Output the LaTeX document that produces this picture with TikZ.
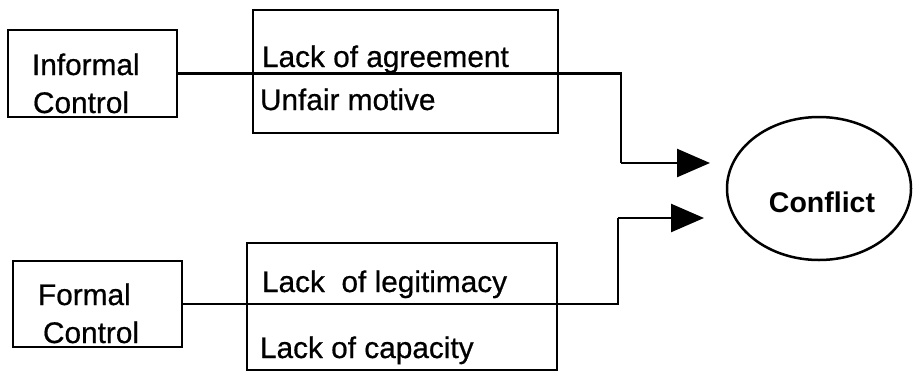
\documentclass[tikz,border=0pt]{standalone}
\usepackage{fontspec}
\setmainfont{Liberation Sans}
% slightly heavier strokes for the body labels
\newfontfamily\labelfont{Liberation Sans}[FakeBold=0.6, BoldFont={Liberation Sans}, BoldFeatures={FakeBold=0.6}]
\newfontfamily\titlefont{Liberation Sans Bold}
\usetikzlibrary{shapes.geometric,arrows.meta}
\begin{document}
\begin{tikzpicture}[x=1pt,y=-1pt,
  every node/.style={inner sep=0pt, outer sep=0pt},
  box/.style={draw, line width=2.5pt, rectangle},
  label/.style={anchor=base west, font=\labelfont\bfseries\fontsize{29.8}{34}\selectfont},
  link/.style={line width=2.5pt},
  flow/.style={line width=2.5pt, -{Triangle[length=33pt,width=28pt]}}]
  \useasboundingbox (0,0) rectangle (913,373);

  % control boxes on the left
  \node[box, minimum width=169pt, minimum height=87pt] (inf) at (92.5,73.5) {};
  \node[box, minimum width=169pt, minimum height=86pt] (frm) at (97.5,304) {};
  \node[label] (infA) at (32,75) {Informal};
  \node[label] (infB) at (33,113) {Control};
  \node[label] (frmA) at (38,305) {Formal};
  \node[label] (frmB) at (43,343) {Control};

  % boxes listing the shortcomings
  \node[box, minimum width=305pt, minimum height=123pt] (top) at (405.5,71.5) {};
  \node[box, minimum width=310pt, minimum height=127pt] (bot) at (402,306.5) {};
  \node[label] (agr) at (262,67) {Lack of agreement};
  \node[label] (mot) at (260,110) {Unfair motive};
  \node[label] (leg) at (262,292) {Lack~~of legitimacy};
  \node[label] (cap) at (260,358) {Lack of capacity};

  % outcome
  \node[draw, ellipse, line width=2.5pt, minimum width=184pt, minimum height=143pt] (con) at (819,188.5) {};
  \node[anchor=base, font=\titlefont\fontsize{28.5}{34}\selectfont] (conT) at (822,212) {Conflict};

  % connectors
  \coordinate (t1) at (621,163);
  \coordinate (a1) at (710,163);
  \coordinate (t2) at (618,218);
  \coordinate (a2) at (704,218);
  \draw[link] (inf.east) -| (t1);
  \draw[flow] (t1) -- (a1);
  \draw[link] (frm.east) -| (t2);
  \draw[flow] (t2) -- (a2);
\end{tikzpicture}
\end{document}
